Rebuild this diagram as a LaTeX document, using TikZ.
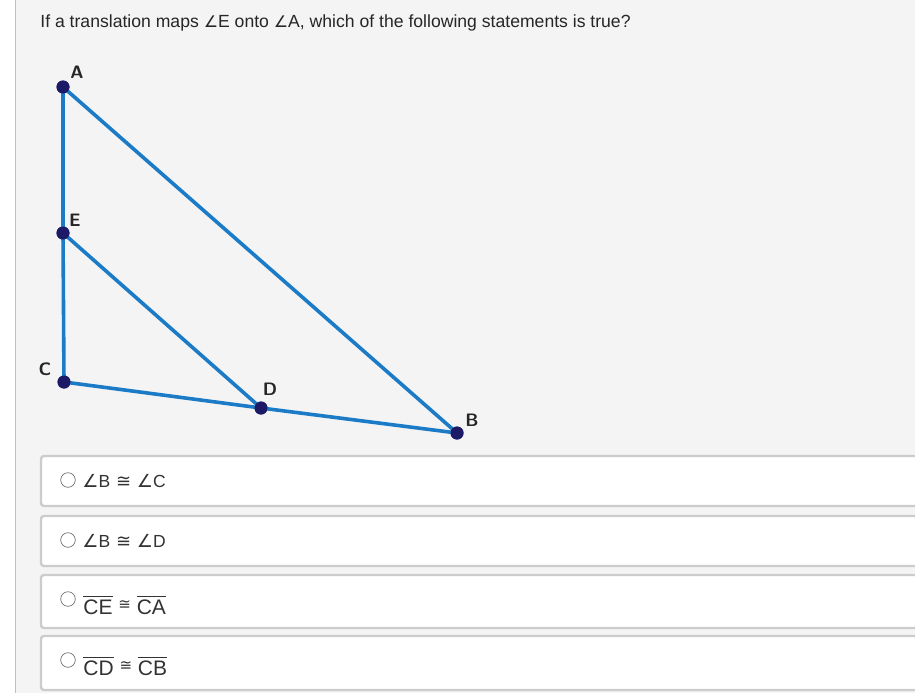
\documentclass[tikz,border=0pt]{standalone}
\usepackage{fontspec}
\setmainfont{Liberation Sans}
\newfontfamily\symfont{DejaVu Sans}
\usetikzlibrary{arrows}

\definecolor{pagebg}{HTML}{F4F4F4}
\definecolor{segblue}{HTML}{1B7BC6}
\definecolor{dotnavy}{HTML}{1C1A66}
\definecolor{boxline}{HTML}{CCCCCC}

\begin{document}
\begin{tikzpicture}[x=1pt,y=-1pt,thick,
		point node/.style={circle,fill=dotnavy,inner sep=0pt,minimum size=13pt},
		point label/.style={font=\sffamily\bfseries\fontsize{18}{18}\selectfont,text=black!85},
		seg/.style={draw=segblue,line width=3.6pt},
		answer box/.style={draw=boxline,line width=2.4pt,fill=white,rounded corners=3pt},
		answer text/.style={anchor=west,font=\fontsize{17.5}{17.5}\selectfont,text=black!80,inner sep=0pt}]
		\useasboundingbox (0,0) rectangle (915,693);
		\clip (0,0) rectangle (915,693);
		\fill[pagebg] (15,0) rectangle (915,693);
		\draw[black!25,line width=0.8pt] (15,0) -- (15,693);
		% question
		\node[anchor=west,inner sep=0pt,font=\fontsize{17.6}{17.6}\selectfont,text=black!85] (question) at (40,23)
		{If a translation maps {\symfont\fontsize{16}{16}\selectfont∠}E onto {\symfont\fontsize{16}{16}\selectfont∠}A, which of the following statements is true?};
		% figure
		\node[point node] (A) at (63,87) {};
		\node[point node] (E) at (63,233) {};
		\node[point node] (C) at (64,382) {};
		\node[point node] (D) at (261,408) {};
		\node[point node] (B) at (457,433) {};
		\path[seg]
		(A.center) edge (E.center)
		(E.center) edge (C.center)
		(C.center) edge (D.center)
		(D.center) edge (B.center)
		(A.center) edge (B.center)
		(E.center) edge (D.center);
		\foreach \p in {A,E,C,D,B} \node[point node] at (\p) {};
		\node[point label] (lA) at (77,72) {A};
		\node[point label] (lE) at (75,220) {E};
		\node[point label] (lC) at (45,369) {C};
		\node[point label] (lD) at (270,389) {D};
		\node[point label] (lB) at (472,420) {B};
		% answers
		\foreach \top/\bot in {456/506,516/566,575/628,636/690}
		\draw[answer box] (41,\top) rectangle (940,\bot);
		\foreach \yy in {480,540,599,660}
		\draw[black!55,line width=0.7pt,fill=white] (68,\yy) circle (7.3);
		\node[answer text] (ans1) at (82,481) {{\symfont\fontsize{18}{18}\selectfont∠}B\,\,{\symfont\fontsize{18}{18}\selectfont≅}\,\,{\symfont\fontsize{18}{18}\selectfont∠}C};
		\node[answer text] (ans2) at (82,541) {{\symfont\fontsize{18}{18}\selectfont∠}B\,\,{\symfont\fontsize{18}{18}\selectfont≅}\,\,{\symfont\fontsize{18}{18}\selectfont∠}D};
		\node[answer text,font=\fontsize{21}{21}\selectfont] (ans3) at (83,605) {$\overline{\hbox{\vphantom{\"E}CE}}$ {\symfont\fontsize{15}{15}\selectfont\raisebox{5pt}{≅}} $\overline{\hbox{\vphantom{\"E}CA}}$};
		\node[answer text,font=\fontsize{21}{21}\selectfont] (ans4) at (83,666) {$\overline{\hbox{\vphantom{\"E}CD}}$ {\symfont\fontsize{15}{15}\selectfont\raisebox{5pt}{≅}} $\overline{\hbox{\vphantom{\"E}CB}}$};
\end{tikzpicture}
\end{document}
